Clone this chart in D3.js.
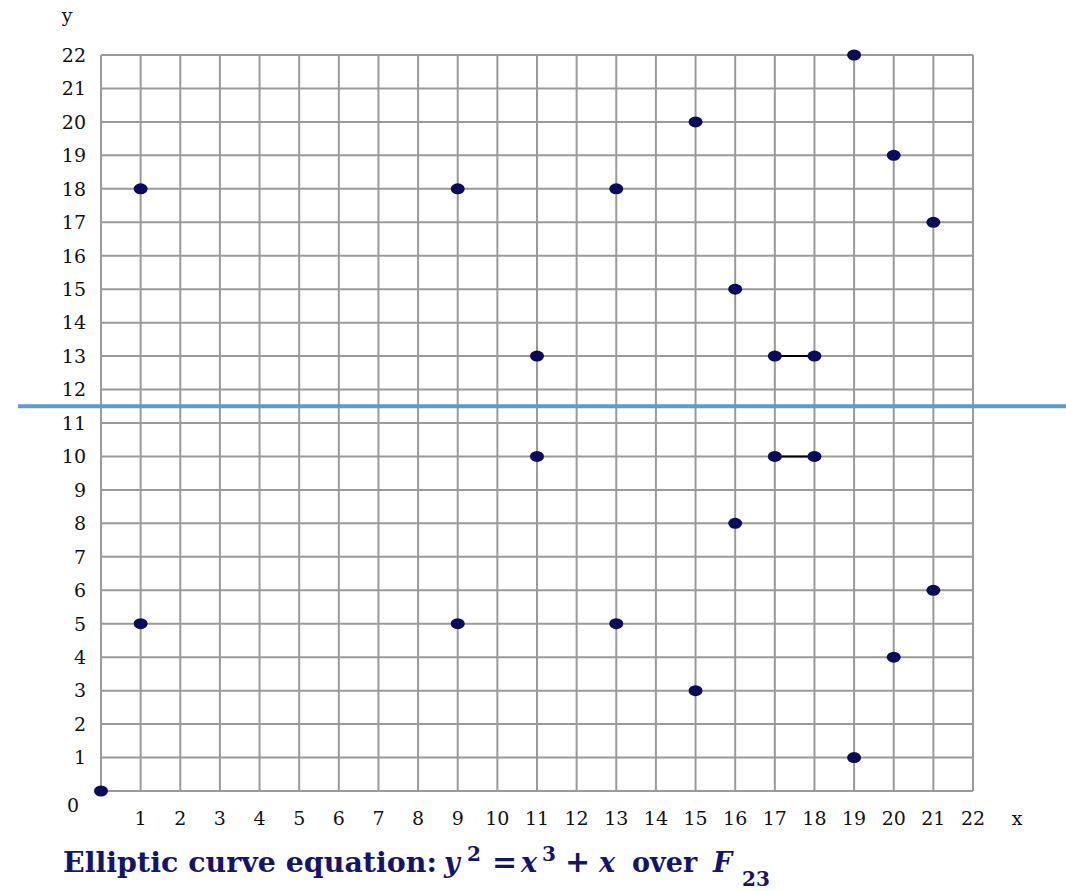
<!DOCTYPE html>
<html>
<head>
<meta charset="utf-8">
<script src="https://cdn.jsdelivr.net/npm/d3@7"></script>
<style>
  body { margin: 0; background: #fff; }
  svg text { font-family: "DejaVu Serif", "Liberation Serif", serif; }
</style>
</head>
<body>
<svg id="chart" width="1066" height="891"></svg>
<script>
// points of y^2 = x^3 + x over F_23
const pointsX = [0, 1, 1, 9, 9, 11, 11, 13, 13, 15, 15, 16, 16, 17, 17, 18, 18, 19, 19, 20, 20, 21, 21];
const pointsY = [0, 5, 18, 5, 18, 10, 13, 5, 18, 3, 20, 8, 15, 10, 13, 10, 13, 1, 22, 4, 19, 6, 17];
// short segments joining pairs of points
const segments = [[[17, 13], [18, 13]], [[17, 10], [18, 10]]];
const xTicks = d3.range(1, 23);
const yTicks = d3.range(1, 23);
const cutY = 11.5;

const svg = d3.select('#chart');
const x = d3.scaleLinear().domain([0, 22]).range([101, 973]);
const y = d3.scaleLinear().domain([0, 22]).range([791, 55]);

// grid
const grid = svg.append('g').attr('stroke', '#9a9a9a').attr('stroke-width', 2);
grid.selectAll('.gx').data(d3.range(0, 23)).enter().append('line')
  .attr('x1', d => x(d)).attr('x2', d => x(d))
  .attr('y1', y(0)).attr('y2', y(22));
grid.selectAll('.gy').data(d3.range(0, 23)).enter().append('line')
  .attr('x1', x(0)).attr('x2', x(22))
  .attr('y1', d => y(d)).attr('y2', d => y(d));

// tick labels
svg.append('g').selectAll('text').data(yTicks).enter().append('text')
  .attr('x', 86).attr('y', d => y(d)).attr('dy', '0.36em')
  .attr('text-anchor', 'end').attr('font-size', 19).attr('fill', '#111')
  .text(d => d);
svg.append('g').selectAll('text').data(xTicks).enter().append('text')
  .attr('x', d => x(d)).attr('y', 825)
  .attr('text-anchor', 'middle').attr('font-size', 19).attr('fill', '#111')
  .text(d => d);
svg.append('text').attr('x', 73).attr('y', 812).attr('text-anchor', 'middle')
  .attr('font-size', 19).attr('fill', '#111').text('0');
svg.append('text').attr('x', 1017).attr('y', 825).attr('text-anchor', 'middle')
  .attr('font-size', 19).attr('fill', '#111').text('x');
svg.append('text').attr('x', 67).attr('y', 22).attr('text-anchor', 'middle')
  .attr('font-size', 19).attr('fill', '#111').text('y');

// segments
svg.append('g').selectAll('line').data(segments).enter().append('line')
  .attr('x1', d => x(d[0][0])).attr('y1', d => y(d[0][1]))
  .attr('x2', d => x(d[1][0])).attr('y2', d => y(d[1][1]))
  .attr('stroke', '#000').attr('stroke-width', 2);

// points
svg.append('g').selectAll('ellipse').data(pointsX.map((d, i) => [d, pointsY[i]])).enter()
  .append('ellipse')
  .attr('cx', d => x(d[0])).attr('cy', d => y(d[1]))
  .attr('rx', 7).attr('ry', 5.5).attr('fill', '#0b0b5e');

// horizontal cut line
svg.append('line')
  .attr('x1', 18).attr('x2', 1066)
  .attr('y1', y(cutY)).attr('y2', y(cutY))
  .attr('stroke', '#5b9bd5').attr('stroke-width', 4);

// caption
const capStyle = t => t.attr('font-size', 27).attr('font-weight', 'bold').attr('fill', '#14146e');
svg.append('text').call(capStyle).attr('x', 63).attr('y', 872)
  .attr('textLength', 374).attr('lengthAdjust', 'spacingAndGlyphs')
  .text('Elliptic curve equation:');
const cap = svg.append('text').call(capStyle);
cap.append('tspan').attr('x', 444).attr('y', 872).attr('font-style', 'italic').text('y');
cap.append('tspan').attr('x', 467).attr('y', 861).attr('font-size', 20).text('2');
cap.append('tspan').attr('x', 492).attr('y', 872).attr('font-size', 30).text('=');
cap.append('tspan').attr('x', 521).attr('y', 872).attr('font-style', 'italic').text('x');
cap.append('tspan').attr('x', 542).attr('y', 861).attr('font-size', 20).text('3');
cap.append('tspan').attr('x', 565).attr('y', 872).attr('font-size', 30).text('+');
cap.append('tspan').attr('x', 599).attr('y', 872).attr('font-style', 'italic').text('x');
cap.append('tspan').attr('x', 632).attr('y', 872).text('over');
cap.append('tspan').attr('x', 713).attr('y', 872).attr('font-style', 'italic').text('F');
cap.append('tspan').attr('x', 742).attr('y', 886).attr('font-size', 20).text('23');
</script>
</body>
</html>
